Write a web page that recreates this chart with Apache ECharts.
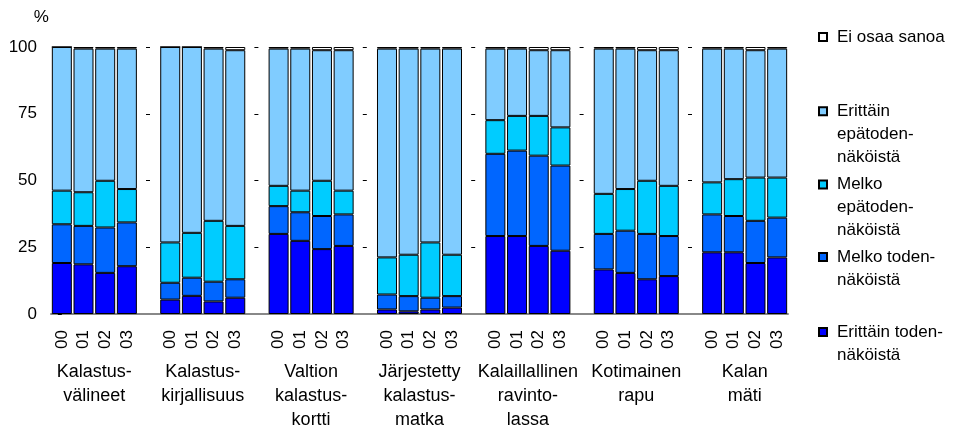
<!DOCTYPE html>
<html>
<head>
<meta charset="utf-8">
<script src="https://cdn.jsdelivr.net/npm/echarts@6/dist/echarts.min.js"></script>
<style>html,body{margin:0;padding:0;background:#fff}#c{width:954px;height:432px}</style>
</head>
<body>
<div id="c"></div>
<script>
// ---- data ----
const years = ['00', '01', '02', '03'];
const groups = [
  'Kalastus-\nvälineet',
  'Kalastus-\nkirjallisuus',
  'Valtion\nkalastus-\nkortti',
  'Järjestetty\nkalastus-\nmatka',
  'Kalaillallinen\nravinto-\nlassa',
  'Kotimainen\nrapu',
  'Kalan\nmäti'
];
const yTicks = [0, 25, 50, 75, 100];

// values per group, years 00..03 (%)
const erittainToden = [
  [19.1, 18.6, 15.4, 17.9], [5.4, 6.8, 4.7, 6.1], [30.0, 27.4, 24.3, 25.5],
  [1.7, 1.0, 1.7, 2.4], [29.2, 29.2, 25.5, 23.7], [16.7, 15.4, 13.0, 14.2], [23.1, 23.1, 19.1, 21.2]
];
const melkoToden = [
  [14.5, 14.4, 17.0, 16.4], [6.3, 6.8, 7.4, 6.9], [10.4, 10.7, 12.4, 11.8],
  [5.6, 5.7, 4.4, 4.3], [30.8, 32.0, 33.8, 31.9], [13.3, 15.8, 17.0, 15.0], [14.2, 13.6, 15.8, 14.9]
];
const melkoEpatoden = [
  [12.6, 12.6, 17.5, 12.5], [15.1, 16.8, 22.8, 20.0], [7.6, 8.1, 13.2, 8.9],
  [13.9, 15.5, 20.7, 15.5], [12.6, 13.0, 14.9, 14.3], [15.0, 15.6, 19.9, 18.8], [12.0, 13.8, 16.2, 15.0]
];
const erittainEpatoden = [
  [53.8, 53.8, 49.5, 52.6], [73.2, 69.6, 64.5, 65.8], [51.4, 53.2, 48.9, 52.6],
  [78.2, 77.2, 72.6, 77.2], [26.8, 25.2, 24.6, 28.9], [54.4, 52.6, 48.9, 50.8], [50.1, 48.9, 47.7, 48.3]
];
const eiOsaaSanoa = [
  [0, 0.6, 0.6, 0.6], [0, 0, 0.6, 1.2], [0.6, 0.6, 1.2, 1.2],
  [0.6, 0.6, 0.6, 0.6], [0.6, 0.6, 1.2, 1.2], [0.6, 0.6, 1.2, 1.2], [0.6, 0.6, 1.2, 0.6]
];

const seriesNames = [
  'Erittäin toden-\nnäköistä',
  'Melko toden-\nnäköistä',
  'Melko\nepätoden-\nnäköistä',
  'Erittäin\nepätoden-\nnäköistä',
  'Ei osaa sanoa'
];
const seriesValues = [erittainToden, melkoToden, melkoEpatoden, erittainEpatoden, eiOsaaSanoa];
const seriesColors = ['#0000FF', '#0066FF', '#00CCFF', '#80CCFF', '#FFFFFF'];

// ---- build ----
const categories = [];
groups.forEach((g, gi) => {
  if (gi > 0) categories.push('');
  years.forEach(y => categories.push(y));
});
function flatten(arr) {
  const out = [];
  arr.forEach((grp, gi) => {
    if (gi > 0) out.push('-');
    grp.forEach(v => out.push(v));
  });
  return out;
}
const FONT = "'Liberation Sans', Arial, sans-serif";
const slotsPerGroup = years.length + 1;
const LH = 23;

const series = seriesNames.map((name, i) => ({
  name: name,
  type: 'bar',
  stack: 'total',
  barWidth: 20,
  data: flatten(seriesValues[i]),
  itemStyle: { color: seriesColors[i], borderColor: '#000', borderWidth: 1 },
  emphasis: { disabled: true },
  animation: false
}));

// legend layout: one legend per item; icon sits beside the first text line
const legendIconCenters = [37, 111.2, 184.5, 257, 332];
const legendOrder = [4, 3, 2, 1, 0];
const legends = legendOrder.map((si, k) => {
  const lines = seriesNames[si].split('\n').length;
  return {
    data: [seriesNames[si]],
    left: 818,
    top: legendIconCenters[k] - (lines - 1) * LH - LH / 2,
    padding: 0,
    orient: 'vertical',
    icon: 'rect',
    itemWidth: 8,
    itemHeight: 8,
    selectedMode: false,
    formatter: function (name) {
      return '\n'.repeat(lines - 1) + name;
    },
    textStyle: {
      fontFamily: FONT, fontSize: 17, color: '#000', lineHeight: LH,
      padding: [0, 0, 0, 5]
    }
  };
});

const chart = echarts.init(document.getElementById('c'), null, { renderer: 'canvas' });
chart.setOption({
  animation: false,
  backgroundColor: '#fff',
  textStyle: { fontFamily: FONT },
  grid: { left: 51, right: 166, top: 47, bottom: 114, containLabel: false },
  legend: legends,
  xAxis: [
    {
      type: 'category',
      data: categories,
      axisLine: { show: true, lineStyle: { color: '#888', width: 2 } },
      axisTick: { show: false },
      axisLabel: {
        interval: 0, rotate: 90, margin: 16,
        fontFamily: FONT, fontSize: 17, color: '#000'
      },
      splitLine: { show: false }
    },
    {
      type: 'value',
      position: 'bottom',
      min: -0.5,
      max: categories.length - 0.5,
      interval: 0.5,
      axisLine: { show: false },
      axisTick: { show: false },
      splitLine: { show: false },
      axisLabel: {
        margin: 46,
        fontFamily: FONT, fontSize: 18, color: '#000', lineHeight: 24,
        align: 'center',
        formatter: function (v) {
          const k = (v - (years.length - 1) / 2) / slotsPerGroup;
          const r = Math.round(k);
          if (Math.abs(k - r) < 1e-6 && r >= 0 && r < groups.length) return groups[r];
          return '';
        }
      }
    }
  ],
  yAxis: {
    type: 'value',
    min: yTicks[0],
    max: yTicks[yTicks.length - 1],
    interval: yTicks[1] - yTicks[0],
    name: '%',
    nameLocation: 'end',
    nameGap: 29.5,
    nameTextStyle: {
      fontFamily: FONT, fontSize: 17, color: '#000',
      align: 'right', verticalAlign: 'middle', padding: [0, 13, 0, 0]
    },
    axisLine: { show: false },
    axisTick: { show: true, length: 4, lineStyle: { color: '#000' } },
    axisLabel: { margin: 14, fontFamily: FONT, fontSize: 17, color: '#000' },
    splitLine: {
      show: true,
      lineStyle: { color: '#000', width: 1, type: [4, 104.4], dashOffset: 13.4 }
    }
  },
  series: series
});
</script>
</body>
</html>
